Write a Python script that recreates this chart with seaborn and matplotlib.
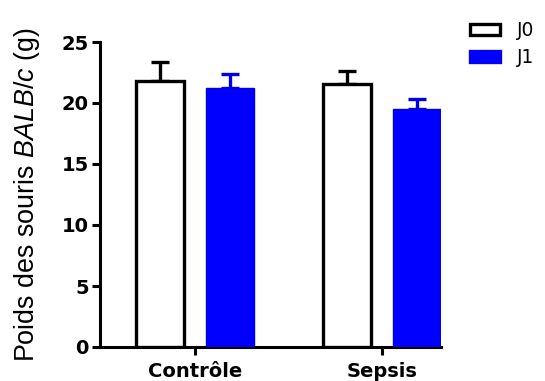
import matplotlib
matplotlib.use("Agg")
import matplotlib.pyplot as plt
import seaborn as sns
import pandas as pd
from matplotlib.patches import Patch

# Data (mean weight and SEM, in grams)
groups = ["Contrôle", "Sepsis"]
days = ["J0", "J1"]
means_j0 = [21.8, 21.55]
means_j1 = [21.2, 19.5]
sem_j0 = [1.6, 1.1]
sem_j1 = [1.2, 0.8]
yticks = [0, 5, 10, 15, 20, 25]

colors = {"J0": "white", "J1": "#0000FF"}
edges = {"J0": "black", "J1": "#0000E6"}

df = pd.DataFrame({
    "Groupe": groups * 2,
    "Jour": ["J0"] * len(groups) + ["J1"] * len(groups),
    "Poids": means_j0 + means_j1,
    "SEM": sem_j0 + sem_j1,
})

sns.set_style("ticks")
plt.rcParams["font.family"] = ["Liberation Sans", "DejaVu Sans"]
plt.rcParams["mathtext.fontset"] = "custom"
plt.rcParams["mathtext.it"] = "Liberation Sans:italic"
plt.rcParams["mathtext.rm"] = "Liberation Sans"
plt.rcParams["text.color"] = "black"
plt.rcParams["axes.labelcolor"] = "black"
plt.rcParams["xtick.color"] = "black"
plt.rcParams["ytick.color"] = "black"

fig = plt.figure(figsize=(5.45, 3.81), dpi=100)
ax = fig.add_axes([100 / 545, 34 / 381, 341 / 545, 305 / 381])

sns.barplot(
    data=df, x="Groupe", y="Poids", hue="Jour", order=groups, hue_order=days,
    palette=colors, saturation=1, width=0.75, gap=0.31, errorbar=None, ax=ax,
    legend=False, zorder=3,
)

# style the bars and add upper-only SEM bars
for i, day in enumerate(days):
    sub = df[df["Jour"] == day].set_index("Groupe").loc[groups]
    bars = ax.containers[i]
    for bar, m, e in zip(bars, sub["Poids"], sub["SEM"]):
        bar.set_edgecolor(edges[day])
        bar.set_linewidth(2.4 if day == "J0" else 1.0)
        x = bar.get_x() + bar.get_width() / 2
        ax.errorbar(x, m, yerr=[[0], [e]], fmt="none", ecolor=edges[day],
                    elinewidth=2.4, capsize=6.5, capthick=2.4, zorder=2)

ax.set_xlim(-0.508, 1.316)
ax.set_ylim(0, 25)
ax.set_yticks(yticks)
ax.set_xlabel("")
ax.set_ylabel("Poids des souris $\\mathit{BALB/c}$ (g)", fontsize=19.4, labelpad=14)

for s in ["top", "right"]:
    ax.spines[s].set_visible(False)
for s in ["left", "bottom"]:
    ax.spines[s].set_linewidth(2.2)
    ax.spines[s].set_color("black")

ax.tick_params(axis="y", length=6, width=2.2, pad=2)
ax.tick_params(axis="x", length=6, width=2.2, pad=5)
for lab in ax.get_xticklabels() + ax.get_yticklabels():
    lab.set_fontweight("bold")
    lab.set_fontfamily("DejaVu Sans")
    lab.set_fontsize(14)

handles = [Patch(facecolor=colors[d], edgecolor=edges[d] if d == "J0" else colors[d],
                 linewidth=2.4) for d in days]
fig.legend(
    handles, days, loc="upper left", bbox_to_anchor=(470 / 545, 0.945),
    frameon=False, prop={"family": "DejaVu Sans", "size": 13.5},
    handlelength=1.6, handleheight=0.55,
    handletextpad=0.9, labelspacing=0.45, borderpad=0, borderaxespad=0,
)

fig.savefig("out.png", dpi=100, facecolor="white")
